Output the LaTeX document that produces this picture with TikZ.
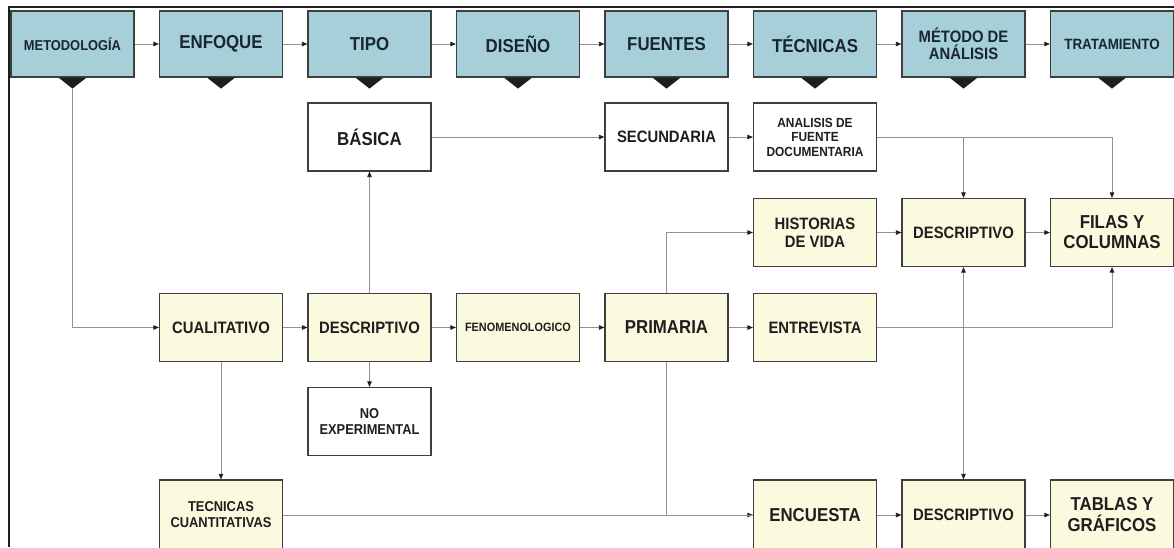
\documentclass[tikz,border=0pt]{standalone}
\usepackage{fontspec}
\setmainfont[FakeStretch=0.9]{Liberation Sans}
\usetikzlibrary{arrows.meta}
\definecolor{hdr}{RGB}{166,207,218}
\definecolor{cream}{RGB}{251,249,222}
\definecolor{bord}{RGB}{62,62,62}
\definecolor{connc}{RGB}{145,145,145}
\definecolor{ink}{RGB}{30,30,30}
\definecolor{hink}{RGB}{24,38,46}
\tikzset{
  fz/.style 2 args={font=\bfseries\fontsize{#1}{#2}\selectfont},
  box/.style={draw=bord, line width=1.2pt, minimum width=123pt, minimum height=68pt,
              inner sep=0pt, align=center, text=ink},
  hbox/.style={box, fill=hdr, minimum height=66pt, text=hink},
  ybox/.style={box, fill=cream},
  wbox/.style={box, fill=white},
  conn/.style={draw=connc, line width=0.8pt, -{Triangle[length=5.5pt,width=4.5pt,color=ink]}},
  plainline/.style={draw=connc, line width=0.8pt},
  frameline/.style={draw=ink, line width=2.5pt},
  notch/.style={fill=ink}
}
\begin{document}
\begin{tikzpicture}[x=1pt,y=-1pt]
\useasboundingbox (0,0) rectangle (1174,547);
\clip (0,0) rectangle (1174,547);

% header row
\node[hbox, fz={14.3}{16}] (h1) at (72.5,44) {METODOLOGÍA};
\node[hbox, fz={18.7}{20}] (h2) at (221,44) {ENFOQUE};
\node[hbox, fz={18.7}{20}] (h3) at (369.5,44) {TIPO};
\node[hbox, fz={18.7}{20}] (h4) at (518,44) {DISEÑO};
\node[hbox, fz={18.7}{20}] (h5) at (666.5,44) {FUENTES};
\node[hbox, fz={18.7}{20}] (h6) at (815,44) {TÉCNICAS};
\node[hbox, fz={16.5}{16.5}] (h7) at (963.5,44) {MÉTODO DE\\ANÁLISIS};
\node[hbox, fz={14.9}{16}] (h8) at (1112,44) {TRATAMIENTO};

\foreach \h in {h1,h2,h3,h4,h5,h6,h7,h8}{
  \fill[notch] ([xshift=-14pt]\h.south) -- ([xshift=14pt]\h.south) -- ([yshift=-11pt]\h.south) -- cycle;
}

% row 2
\node[wbox, fz={18.7}{20}] (bas) at (369.5,137) {BÁSICA};
\node[wbox, fz={16.5}{18}] (sec) at (666.5,137) {SECUNDARIA};
\node[wbox, fz={13.2}{14.5}] (ana) at (815,137) {ANALISIS DE\\FUENTE\\DOCUMENTARIA};

% row 3
\node[ybox, fz={16.5}{18.5}] (his) at (815,232.5) {HISTORIAS\\DE VIDA};
\node[ybox, fz={16.5}{18}] (d3) at (963.5,232.5) {DESCRIPTIVO};
\node[ybox, fz={18.7}{20}] (fil) at (1112,232.5) {FILAS Y\\COLUMNAS};

% row 4
\node[ybox, fz={16.5}{18}] (cual) at (221,327.5) {CUALITATIVO};
\node[ybox, fz={16.5}{18}] (d4) at (369.5,327.5) {DESCRIPTIVO};
\node[ybox, fz={12.1}{14}] (fen) at (518,327.5) {FENOMENOLOGICO};
\node[ybox, fz={18.7}{20}] (pri) at (666.5,327.5) {PRIMARIA};
\node[ybox, fz={16.5}{18}] (ent) at (815,327.5) {ENTREVISTA};

% row 5
\node[wbox, fz={14.3}{16}] (noe) at (369.5,421.5) {NO\\EXPERIMENTAL};

% row 6
\node[ybox, minimum height=70pt, fz={14.3}{16}] (tec) at (221,515) {TECNICAS\\CUANTITATIVAS};
\node[ybox, minimum height=70pt, fz={18.7}{20}] (enc) at (815,515) {ENCUESTA};
\node[ybox, minimum height=70pt, fz={16.5}{18}] (d6) at (963.5,515) {DESCRIPTIVO};
\node[ybox, minimum height=70pt, fz={18.7}{21}] (tab) at (1112,515) {TABLAS Y\\GRÁFICOS};

% header connectors
\draw[conn] (h1.east) -- (h2.west);
\draw[conn] (h2.east) -- (h3.west);
\draw[conn] (h3.east) -- (h4.west);
\draw[conn] (h4.east) -- (h5.west);
\draw[conn] (h5.east) -- (h6.west);
\draw[conn] (h6.east) -- (h7.west);
\draw[conn] (h7.east) -- (h8.west);

% body connectors
\coordinate (t1) at ([yshift=-11pt]h1.south);
\draw[conn] (t1) |- (cual.west);
\draw[conn] (cual.east) -- (d4.west);
\draw[conn] (d4.east) -- (fen.west);
\draw[conn] (fen.east) -- (pri.west);
\draw[conn] (pri.east) -- (ent.west);
\draw[conn] (d4.north) -- (bas.south);
\draw[conn] (d4.south) -- (noe.north);
\draw[conn] (bas.east) -- (sec.west);
\draw[conn] (sec.east) -- (ana.west);
\draw[conn] (ana.east) -| (fil.north);
\draw[conn] (ana.east -| d3.north) -- (d3.north);
\draw[conn] (pri.north) |- (his.west);
\draw[conn] (his.east) -- (d3.west);
\draw[conn] (d3.east) -- (fil.west);
\draw[conn] (ent.east) -| (fil.south);
\coordinate (j) at (ent.east -| d3.south);
\draw[conn] (j) -- (d3.south);
\draw[conn] (j) -- (d6.north);
\draw[conn] (cual.south) -- (tec.north);
\draw[conn] (tec.east) -- (enc.west);
\draw[plainline] (pri.south) |- (enc.west);
\draw[conn] (enc.east) -- (d6.west);
\draw[conn] (d6.east) -- (tab.west);

% frame
\draw[frameline] (9,547) -- (9,7) -- (1174,7);
\end{tikzpicture}
\end{document}
